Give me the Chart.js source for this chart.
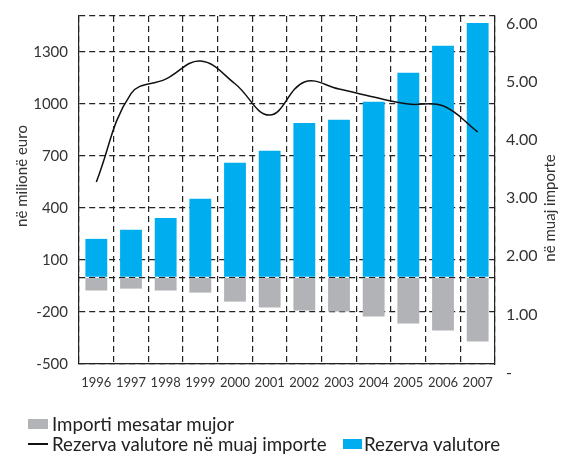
<!DOCTYPE html>
<html>
<head>
<meta charset="utf-8">
<script src="https://cdn.jsdelivr.net/npm/chart.js@4"></script>
<style>
  body { margin: 0; background: #fff; }
  #wrap { position: relative; width: 561px; height: 456px; font-family: Lato, sans-serif; color: #222; }
  .lg { position: absolute; font-size: 18.7px; line-height: 20px; white-space: nowrap; }
  .sw { position: absolute; }
</style>
</head>
<body>
<div id="wrap">
  <canvas id="chart" width="561" height="456"></canvas>
  <div class="sw" style="left:28px;top:419px;width:20px;height:10px;background:#b1b3b6"></div>
  <div class="lg" style="left:52px;top:414px">Importi mesatar mujor</div>
  <div class="sw" style="left:28px;top:443px;width:20px;height:1.5px;background:#111"></div>
  <div class="lg" style="left:52px;top:434px">Rezerva valutore në muaj importe</div>
  <div class="sw" style="left:343px;top:439px;width:19px;height:10px;background:#00aeef"></div>
  <div class="lg" style="left:364px;top:434px">Rezerva valutore</div>
</div>
<script>
// Rezerva valutore - grafik

const years = ['1996','1997','1998','1999','2000','2001','2002','2003','2004','2005','2006','2007'];
const rezerva = [222, 274, 343, 453, 661, 730, 891, 909, 1013, 1180, 1336, 1468];
const importi = [-76, -65, -76, -88, -140, -174, -192, -197, -226, -267, -307, -370];
const muaj = [3.28, 4.80, 5.05, 5.36, 4.97, 4.43, 5.00, 4.88, 4.74, 4.62, 4.59, 4.14];
const leftTicks = [-500, -200, 100, 400, 700, 1000, 1300];
const rightTicks = [0, 1, 2, 3, 4, 5, 6];

const gridStyle = { color: '#222', lineWidth: 1.2, drawTicks: false };
const dash = [6, 4];

// zero line on top of bars + axis titles read bottom-to-top on both sides
const extras = {
  id: 'extras',
  afterDatasetsDraw(chart) {
    const { ctx, chartArea, scales } = chart;
    const y0 = Math.round(scales.y.getPixelForValue(0)) + 0.5;
    ctx.save();
    ctx.strokeStyle = '#222';
    ctx.lineWidth = 1.2;
    ctx.setLineDash(dash);
    ctx.beginPath();
    ctx.moveTo(chartArea.left, y0);
    ctx.lineTo(chartArea.right, y0);
    ctx.stroke();
    ctx.restore();
  },
  afterDraw(chart) {
    const ctx = chart.ctx;
    ctx.save();
    ctx.fillStyle = '#333';
    ctx.font = '15px Lato, sans-serif';
    ctx.textAlign = 'center';
    ctx.textBaseline = 'middle';
    [['në milionë euro', 22, 176], ['në muaj importe', 550, 208]].forEach(([t, x, y]) => {
      ctx.save();
      ctx.translate(x, y);
      ctx.rotate(-Math.PI / 2);
      ctx.fillText(t, 0, 0);
      ctx.restore();
    });
    ctx.restore();
  }
};

new Chart(document.getElementById('chart'), {
  data: {
    labels: years,
    datasets: [
      {
        type: 'bar',
        label: 'Importi mesatar mujor',
        data: importi,
        backgroundColor: '#b1b3b6',
        barPercentage: 0.63,
        categoryPercentage: 1,
        order: 2
      },
      {
        type: 'line',
        label: 'Rezerva valutore në muaj importe',
        data: muaj,
        yAxisID: 'y1',
        borderColor: '#111',
        borderWidth: 1.5,
        pointRadius: 0,
        tension: 0.4,
        fill: false,
        order: 0
      },
      {
        type: 'bar',
        label: 'Rezerva valutore',
        data: rezerva,
        backgroundColor: '#00aeef',
        barPercentage: 0.63,
        categoryPercentage: 1,
        order: 1
      }
    ]
  },
  options: {
    responsive: false,
    animation: false,
    layout: { padding: { top: 16, bottom: 62, left: 0, right: 0 } },
    plugins: { legend: { display: false }, tooltip: { enabled: false } },
    scales: {
      x: {
        stacked: true,
        offset: true,
        grid: { ...gridStyle, offset: true },
        border: { color: '#222', width: 1.2, dash: dash },
        ticks: { color: '#333', font: { family: 'Lato', size: 13 }, padding: 11, maxRotation: 0, autoSkip: false },
        afterFit: s => { s.height = 30; s.paddingLeft = 0; s.paddingRight = 0; }
      },
      y: {
        stacked: true,
        position: 'left',
        min: -500,
        max: 1508,
        grid: gridStyle,
        border: { color: '#222', width: 1.2, dash: dash },
        ticks: {
          color: '#333', font: { family: 'Lato', size: 15 }, padding: 11,
          callback: v => leftTicks.includes(v) ? String(v) : ''
        },
        afterBuildTicks: s => { s.ticks = leftTicks.concat([0, 1508]).map(v => ({ value: v })); },
        afterFit: s => { s.width = 79; s.paddingTop = 0; s.paddingBottom = 0; }
      },
      y1: {
        position: 'right',
        min: 0.146,
        max: 6.136,
        grid: { display: false, drawTicks: false },
        border: { color: '#222', width: 1.2, dash: dash },
        ticks: {
          color: '#333', font: { family: 'Lato', size: 16 }, padding: 11,
          callback: v => v === 0 ? '-' : v.toFixed(2)
        },
        afterBuildTicks: s => { s.ticks = rightTicks.map(v => ({ value: v })); },
        afterFit: s => { s.width = 66; s.paddingTop = 0; s.paddingBottom = 0; }
      }
    }
  },
  plugins: [extras]
});
</script>
</body>
</html>
